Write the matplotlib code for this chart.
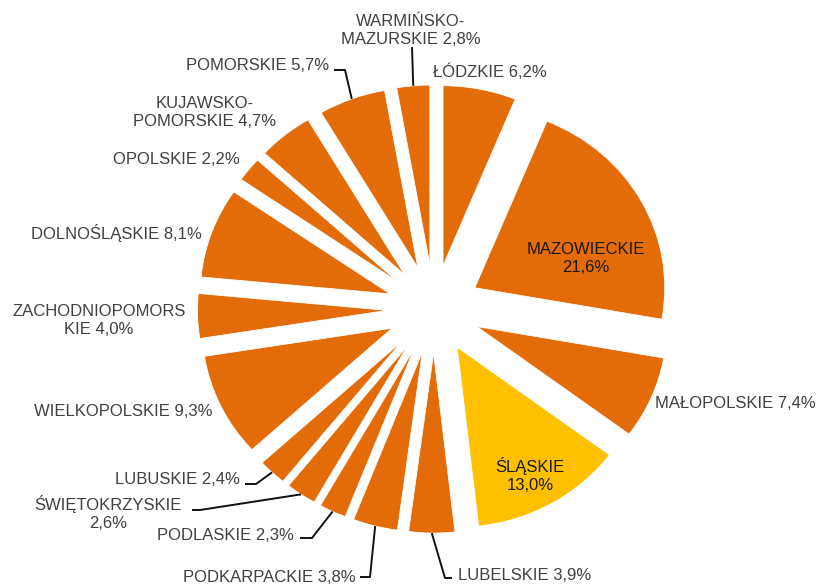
import numpy as np
import matplotlib
matplotlib.use("Agg")
import matplotlib.pyplot as plt

# ---------------- data ----------------
regions = ["ŁÓDZKIE", "MAZOWIECKIE", "MAŁOPOLSKIE", "ŚLĄSKIE", "LUBELSKIE",
           "PODKARPACKIE", "PODLASKIE", "ŚWIĘTOKRZYSKIE", "LUBUSKIE",
           "WIELKOPOLSKIE", "ZACHODNIOPOMORSKIE", "DOLNOŚLĄSKIE", "OPOLSKIE",
           "KUJAWSKO-POMORSKIE", "POMORSKIE", "WARMIŃSKO-MAZURSKIE"]
shares = [6.2, 21.6, 7.4, 13.0, 3.9, 3.8, 2.3, 2.6, 2.4, 9.3, 4.0, 8.1, 2.2,
          4.7, 5.7, 2.8]
label_texts = ["ŁÓDZKIE 6,2%", "MAZOWIECKIE\n21,6%", "MAŁOPOLSKIE 7,4%",
               "ŚLĄSKIE\n13,0%", "LUBELSKIE 3,9%", "PODKARPACKIE 3,8%",
               "PODLASKIE 2,3%", "ŚWIĘTOKRZYSKIE\n2,6%", "LUBUSKIE 2,4%",
               "WIELKOPOLSKIE 9,3%", "ZACHODNIOPOMORS\nKIE 4,0%",
               "DOLNOŚLĄSKIE 8,1%", "OPOLSKIE 2,2%", "KUJAWSKO-\nPOMORSKIE 4,7%",
               "POMORSKIE 5,7%", "WARMIŃSKO-\nMAZURSKIE 2,8%"]
highlight = "ŚLĄSKIE"

# ---------------- layout (pixels) ----------------
W, H = 819, 585
CX, CY = 434, 309       # pie centre in pixels (from top)
RX, RY = 190, 180       # pie radii in pixels
EXPLODE = 0.245

ORANGE = "#E36C09"
YELLOW = "#FFC000"
TEXT = "#404040"

# label position (px), alignment, leader path points (px) before slice anchor
label_layout = {
    "ŁÓDZKIE": ((433, 72), "left", None),
    "MAZOWIECKIE": ((586, 259), "center", None),
    "MAŁOPOLSKIE": ((655, 403), "left", None),
    "ŚLĄSKIE": ((530, 475), "center", None),
    "LUBELSKIE": ((458, 575), "left", [(452, 578), (445, 578)]),
    "PODKARPACKIE": ((356, 577), "right", [(360, 577), (370, 577)]),
    "PODLASKIE": ((294, 535), "right", [(300, 538), (312, 538)]),
    "ŚWIĘTOKRZYSKIE": ((108, 513), "center", [(192, 510), (200, 510)]),
    "LUBUSKIE": ((240, 480), "right", [(245, 484), (256, 484)]),
    "WIELKOPOLSKIE": ((212, 411), "right", None),
    "ZACHODNIOPOMORSKIE": ((99, 320), "center", None),
    "DOLNOŚLĄSKIE": ((202, 233), "right", None),
    "OPOLSKIE": ((240, 159), "right", None),
    "KUJAWSKO-POMORSKIE": ((205, 113), "center", None),
    "POMORSKIE": ((329, 65), "right", [(334, 70), (345, 70)]),
    "WARMIŃSKO-MAZURSKIE": ((411, 30), "center", [(412, 47)]),
}


def to_data(px, py):
    return ((px - CX) / RX, (CY - py) / RY)


fig = plt.figure(figsize=(W / 100, H / 100), dpi=100)
ax = fig.add_axes([0, 0, 1, 1])

colors = [YELLOW if r == highlight else ORANGE for r in regions]
wedges, _ = ax.pie(shares, colors=colors, startangle=90, counterclock=False,
                   explode=[EXPLODE] * len(shares), radius=1, center=(0, 0),
                   wedgeprops=dict(linewidth=0.6, edgecolor="white"))

ax.set_xlim(-CX / RX, (W - CX) / RX)
ax.set_ylim(-(H - CY) / RY, CY / RY)
ax.set_aspect("auto")
ax.axis("off")

total = sum(shares)
cum = 0.0
for reg, val, txt in zip(regions, shares, label_texts):
    mid = 90 - (cum + val / 2) / total * 360
    cum += val
    (lx, ly), ha, leader = label_layout[reg]
    inside = reg in ("MAZOWIECKIE", "ŚLĄSKIE")
    x, y = to_data(lx, ly)
    ax.text(x, y, txt, ha=ha, va="center", fontsize=12,
            family=["Liberation Sans", "DejaVu Sans"],
            color="#1a1a1a" if inside else TEXT, linespacing=1.25,
            multialignment="center")
    if leader is not None:
        th = np.deg2rad(mid)
        anchor = ((1 + EXPLODE) * np.cos(th), (1 + EXPLODE) * np.sin(th))
        pts = [to_data(px, py) for px, py in leader] + [anchor]
        xs, ys = zip(*pts)
        ax.plot(xs, ys, color="#111111", lw=1.4, solid_capstyle="butt")

fig.savefig("out.png", dpi=100)
